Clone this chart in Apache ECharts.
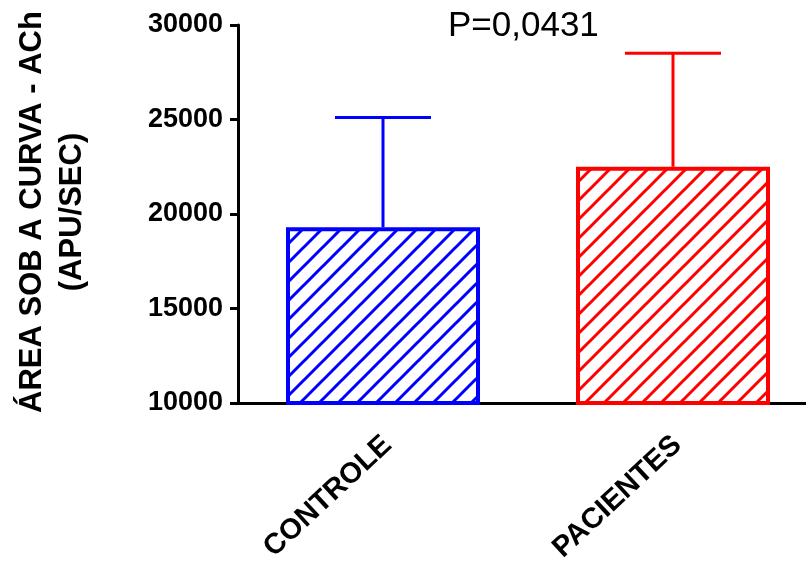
<!DOCTYPE html>
<html>
<head>
<meta charset="utf-8">
<script src="https://cdn.jsdelivr.net/npm/echarts@6/dist/echarts.min.js"></script>
<style>
  html, body { margin: 0; padding: 0; background: #fff; }
  #chart { width: 806px; height: 563px; }
</style>
</head>
<body>
<div id="chart"></div>
<script>
// Groups and their means with the upper error (mean + SD)
const groups = ['CONTROLE', 'PACIENTES'];
const means = [19300, 22500];
const upperErrors = [25100, 28500];
const groupColors = ['#0000FF', '#FF0000'];
const yTicks = { min: 10000, max: 30000, step: 5000 };
const pValueText = 'P=0,0431';
const yTitleLines = ['ÁREA SOB A CURVA - ACh', '(APU/SEC)'];

const FONT = '"Liberation Sans", Arial, Helvetica, sans-serif';

// Diagonal "/" hatch tile for the bar fills
function hatch(color) {
  const s = 19;
  const c = document.createElement('canvas');
  c.width = s; c.height = s;
  const g = c.getContext('2d');
  g.strokeStyle = color;
  g.lineWidth = 3;
  g.lineCap = 'square';
  g.beginPath();
  g.moveTo(0, s); g.lineTo(s, 0);
  g.moveTo(-2, 2); g.lineTo(2, -2);
  g.moveTo(s - 2, s + 2); g.lineTo(s + 2, s - 2);
  g.stroke();
  return c;
}

const chart = echarts.init(document.getElementById('chart'), null, { renderer: 'canvas' });

const barData = groups.map((g, i) => ({
  value: means[i],
  itemStyle: {
    color: { image: hatch(groupColors[i]), repeat: 'repeat' },
    borderColor: groupColors[i],
    borderWidth: 4
  }
}));

const errData = groups.map((g, i) => [i, means[i], upperErrors[i]]);

chart.setOption({
  animation: false,
  backgroundColor: '#ffffff',
  // the category axis runs a little past the right edge of the canvas
  grid: {
    left: 238, width: 580, top: 25, height: 378,
    containLabel: false, outerBoundsMode: 'none'
  },
  xAxis: {
    type: 'category',
    data: groups,
    axisLine: { lineStyle: { color: '#000', width: 3 } },
    axisTick: { alignWithLabel: true, length: 9, lineStyle: { color: '#000', width: 3 } },
    axisLabel: {
      rotate: 43, margin: 42, color: '#000',
      fontFamily: FONT, fontWeight: 'bold', fontSize: 29,
      padding: [0, -6, 0, 0]
    },
    splitLine: { show: false }
  },
  yAxis: {
    type: 'value',
    min: yTicks.min, max: yTicks.max, interval: yTicks.step,
    axisLine: { show: true, lineStyle: { color: '#000', width: 3 } },
    axisTick: { show: true, length: 8, lineStyle: { color: '#000', width: 3 } },
    axisLabel: {
      margin: 15, color: '#000',
      fontFamily: FONT, fontWeight: 'bold', fontSize: 27,
      formatter: v => String(v)
    },
    splitLine: { show: false }
  },
  graphic: [
    {
      type: 'text',
      left: 448, top: 9,
      style: { text: pValueText, font: '35px ' + FONT, fill: '#000' }
    },
    {
      type: 'text',
      x: 52, y: 212,
      rotation: Math.PI / 2,
      style: {
        text: yTitleLines.join('\n'),
        font: 'bold 31px ' + FONT,
        fill: '#000',
        align: 'center',
        verticalAlign: 'middle',
        lineHeight: 40
      }
    }
  ],
  series: [
    {
      type: 'custom',
      z: 1,
      data: errData,
      renderItem: function (params, api) {
        const i = api.value(0);
        const base = api.coord([i, api.value(1)]);
        const top = api.coord([i, api.value(2)]);
        const half = 48;
        const stroke = { stroke: groupColors[i], lineWidth: 3 };
        return {
          type: 'group',
          children: [
            { type: 'line', shape: { x1: base[0], y1: base[1], x2: top[0], y2: top[1] }, style: stroke },
            { type: 'line', shape: { x1: top[0] - half, y1: top[1], x2: top[0] + half, y2: top[1] }, style: stroke }
          ]
        };
      }
    },
    {
      type: 'bar',
      z: 2,
      barWidth: 194,
      data: barData
    }
  ]
});
</script>
</body>
</html>
